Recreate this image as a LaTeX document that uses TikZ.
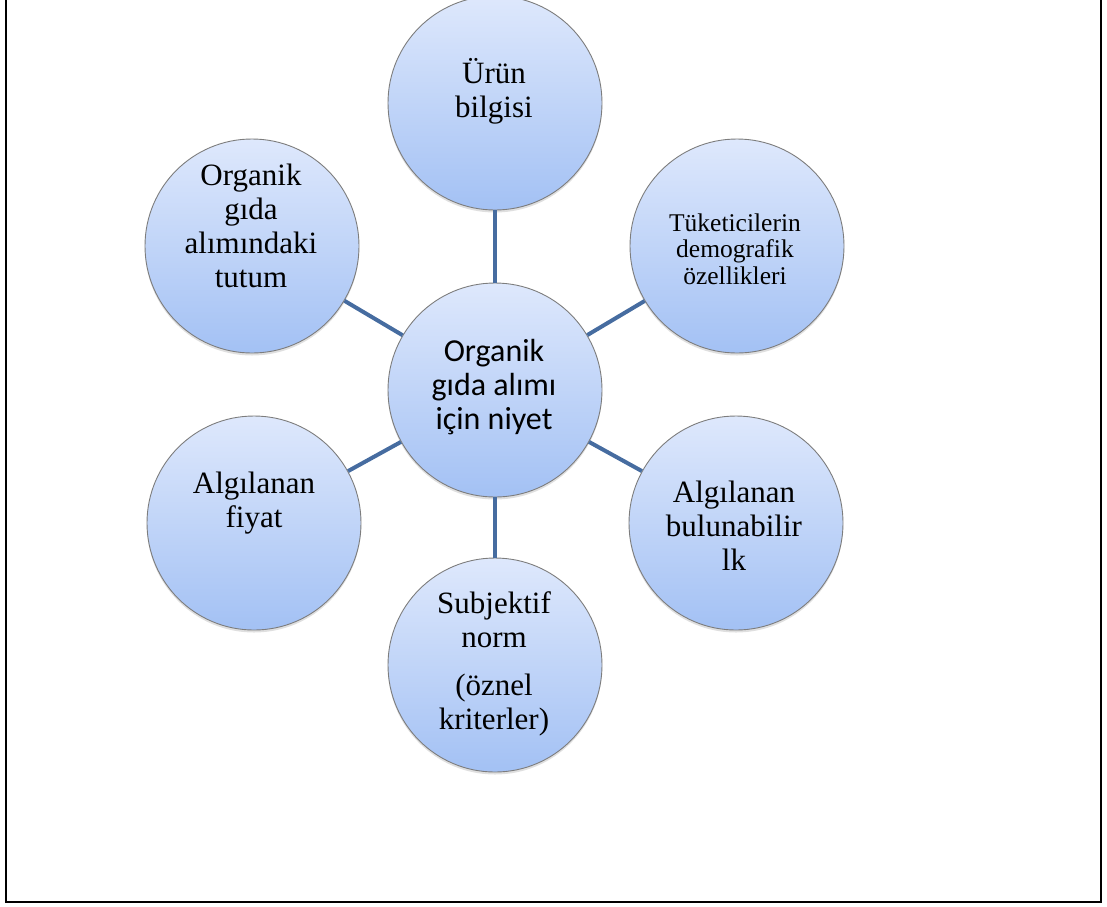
\documentclass[tikz,border=0pt]{standalone}
\usepackage{fontspec}
\setmainfont{Liberation Serif}
\newfontfamily\calib{Carlito}
\usetikzlibrary{shadows}
\definecolor{topc}{RGB}{222,232,252}
\definecolor{botc}{RGB}{163,193,244}
\definecolor{rim}{RGB}{125,125,125}
\definecolor{spoke}{RGB}{70,108,160}
\begin{document}
\begin{tikzpicture}[x=1pt,y=-1pt,
  bub/.style={circle,minimum size=214pt,inner sep=0pt,draw=rim,line width=0.9pt,
    top color=topc,bottom color=botc,
    drop shadow={opacity=0.25,shadow xshift=0pt,shadow yshift=-2.5pt}},
  txt/.style={align=center,inner sep=0pt,font=\fontsize{31}{34}\selectfont},
  stxt/.style={align=center,inner sep=0pt,font=\fontsize{25.5}{26.5}\selectfont},
  ctxt/.style={align=center,inner sep=0pt,font=\calib\fontsize{32}{34}\selectfont},
  spk/.style={draw=spoke,line width=4pt}]
\useasboundingbox (0,0) rectangle (1107,906);
\draw[line width=2.5pt] (6,-10) -- (6,902) -- (1101,902) -- (1101,-10);
\node[bub] (c0) at (495,390) {};
\node[bub] (c1) at (495,103) {};
\node[bub] (c2) at (737,246) {};
\node[bub] (c3) at (736,523) {};
\node[bub] (c4) at (495,665) {};
\node[bub] (c5) at (254,523) {};
\node[bub] (c6) at (252,246) {};
\draw[spk] (c0) -- (c1);
\draw[spk] (c0) -- (c2);
\draw[spk] (c0) -- (c3);
\draw[spk] (c0) -- (c4);
\draw[spk] (c0) -- (c5);
\draw[spk] (c0) -- (c6);
\node[ctxt] (t0) at (494,387) {Organik\\gıda alımı\\için niyet};
\node[txt] (t1) at (494,91) {Ürün\\bilgisi};
\node[stxt] (t2) at (735,249) {Tüketicilerin\\demografik\\özellikleri};
\node[txt] (t3) at (734,526) {Algılanan\\bulunabilir\\lk};
\node[txt] (t4) at (494,664) {Subjektif\\norm\\[14pt](öznel\\kriterler)};
\node[txt] (t5) at (254,503) {Algılanan\\fiyat};
\node[txt] (t6) at (251,226) {Organik\\gıda\\alımındaki\\tutum};
\end{tikzpicture}
\end{document}
